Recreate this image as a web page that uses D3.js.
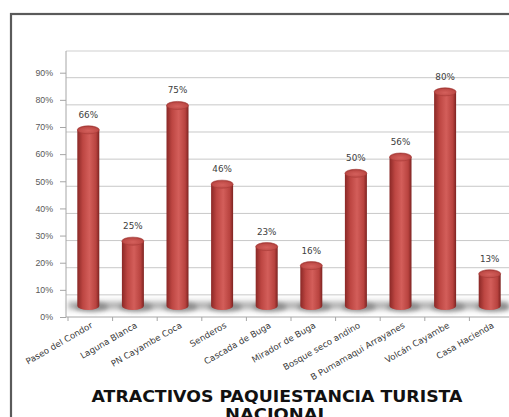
<!DOCTYPE html>
<html lang="es">
<head>
<meta charset="UTF-8">
<title>Atractivos Paquiestancia</title>
<script src="https://d3js.org/d3.v7.min.js"></script>
<style>
    body { margin: 0; background: #ffffff; }
    svg { display: block; font-family: 'DejaVu Sans', sans-serif; }
    .tick-label { font-size: 8.8px; fill: #595959; }
    .cat-label { font-size: 8.7px; fill: #3a3a3a; }
    .val-label { font-size: 8.8px; fill: #404040; }
    .title { font-family: 'DejaVu Sans', sans-serif; font-weight: 700; font-size: 16px; fill: #111; }
</style>
</head>
<body>
<script>
    // data
    const categories = ["Paseo del Condor", "Laguna Blanca", "PN Cayambe Coca", "Senderos",
        "Cascada de Buga", "Mirador de Buga", "Bosque seco andino", "B Pumamaqui Arrayanes",
        "Volcán Cayambe", "Casa Hacienda"];
    const values = [0.66, 0.25, 0.75, 0.46, 0.23, 0.16, 0.50, 0.56, 0.80, 0.13];
    const yTicks = [0, 0.1, 0.2, 0.3, 0.4, 0.5, 0.6, 0.7, 0.8, 0.9];
    const titleLines = ["ATRACTIVOS PAQUIESTANCIA TURISTA", "NACIONAL"];

    const width = 509, height = 417;
    const depth = 8;          // 3d offset of the bars
    const wallShift = 5;      // back wall gridlines sit a bit lower than the ticks

    const svg = d3.select("body").append("svg")
        .attr("width", width)
        .attr("height", height);

    const defs = svg.append("defs");

    const body = defs.append("linearGradient").attr("id", "barBody")
        .attr("x1", "0%").attr("x2", "100%").attr("y1", "0%").attr("y2", "0%");
    body.append("stop").attr("offset", "0%").attr("stop-color", "#8a2826");
    body.append("stop").attr("offset", "25%").attr("stop-color", "#bd4642");
    body.append("stop").attr("offset", "55%").attr("stop-color", "#d35e5a");
    body.append("stop").attr("offset", "85%").attr("stop-color", "#b8433f");
    body.append("stop").attr("offset", "100%").attr("stop-color", "#7d2321");

    const cap = defs.append("radialGradient").attr("id", "barCap")
        .attr("cx", "50%").attr("cy", "60%").attr("r", "60%");
    cap.append("stop").attr("offset", "0%").attr("stop-color", "#d4605c");
    cap.append("stop").attr("offset", "70%").attr("stop-color", "#c04c48");
    cap.append("stop").attr("offset", "100%").attr("stop-color", "#9c3330");

    const floorGrad = defs.append("linearGradient").attr("id", "floorGrad")
        .attr("x1", "0%").attr("x2", "0%").attr("y1", "0%").attr("y2", "100%");
    floorGrad.append("stop").attr("offset", "0%").attr("stop-color", "#d0d0d0").attr("stop-opacity", 0.3);
    floorGrad.append("stop").attr("offset", "50%").attr("stop-color", "#a0a0a0").attr("stop-opacity", 0.95);
    floorGrad.append("stop").attr("offset", "100%").attr("stop-color", "#cfcfcf").attr("stop-opacity", 0.3);

    defs.append("filter").attr("id", "blur")
        .attr("x", "-20%").attr("y", "-50%").attr("width", "140%").attr("height", "200%")
        .append("feGaussianBlur").attr("stdDeviation", 2.2);

    // outer frame (runs off the bottom and right of the picture)
    svg.append("rect")
        .attr("x", 11).attr("y", 14)
        .attr("width", 520).attr("height", 430)
        .attr("fill", "#ffffff")
        .attr("stroke", "#5a5a5a")
        .attr("stroke-width", 2.2);

    const y = d3.scaleLinear().domain([0, 0.9]).range([317, 72.7]);
    const x = d3.scaleBand().domain(categories).range([68, 514]);

    // back wall
    svg.append("line")
        .attr("x1", 66).attr("x2", width)
        .attr("y1", 51).attr("y2", 51)
        .attr("stroke", "#cfcfcf").attr("stroke-width", 1);

    svg.append("g")
        .selectAll("line")
        .data(yTicks.slice(1))
        .join("line")
        .attr("x1", 66).attr("x2", width)
        .attr("y1", d => y(d) + wallShift)
        .attr("y2", d => y(d) + wallShift)
        .attr("stroke", "#c8c8c8")
        .attr("stroke-width", 1);

    // floor shadow band
    svg.append("rect")
        .attr("x", 68).attr("y", y(0) - 18)
        .attr("width", width - 68).attr("height", 13)
        .attr("fill", "url(#floorGrad)")
        .attr("filter", "url(#blur)");

    // y axis
    const yAxis = d3.axisLeft(y)
        .tickValues(yTicks)
        .tickFormat(d3.format(".0%"))
        .tickSize(6)
        .tickPadding(7);

    const gy = svg.append("g")
        .attr("transform", "translate(66,0)")
        .call(yAxis);
    gy.select(".domain").attr("stroke", "#a6a6a6").attr("d", `M0,51V${y(0)}`);
    gy.selectAll(".tick line").attr("stroke", "#a6a6a6");
    gy.selectAll(".tick text").attr("class", "tick-label").attr("fill", null);

    // x axis
    const xAxis = d3.axisBottom(x).tickSize(4).tickFormat("");
    const gx = svg.append("g")
        .attr("transform", `translate(0,${y(0)})`)
        .call(xAxis);
    gx.select(".domain").attr("stroke", "#a6a6a6").attr("d", `M66,0H${width}`);
    gx.selectAll(".tick line")
        .attr("stroke", "#a6a6a6")
        .attr("transform", `translate(${-x.bandwidth() / 2},0)`);

    svg.append("g")
        .selectAll("text")
        .data(categories)
        .join("text")
        .attr("class", "cat-label")
        .attr("text-anchor", "end")
        .attr("transform", d => `translate(${x(d) + x.bandwidth() / 2 + 3},${y(0) + 10}) rotate(-30)`)
        .text(d => d);

    // cylinders
    const barW = 22, ry = 4;
    const bottomY = y(0) - 11;
    const rows = categories.map((c, i) => ({ cat: c, v: values[i] }));

    const bars = svg.append("g")
        .selectAll("g")
        .data(rows)
        .join("g")
        .attr("transform", d => `translate(${x(d.cat) + x.bandwidth() / 2 - 2},0)`);

    // small dark shadow on the floor behind each bar
    bars.append("ellipse")
        .attr("cx", 3).attr("cy", bottomY + 1)
        .attr("rx", barW / 2 + 6).attr("ry", 5)
        .attr("fill", "#6e6e6e")
        .attr("opacity", 0.6)
        .attr("filter", "url(#blur)");

    bars.append("path")
        .attr("d", d => {
            const top = y(d.v) - depth;
            return `M${-barW / 2},${top}V${bottomY}` +
                `A${barW / 2},${ry} 0 0 0 ${barW / 2},${bottomY}` +
                `V${top}Z`;
        })
        .attr("fill", "url(#barBody)");

    bars.append("ellipse")
        .attr("cx", 0)
        .attr("cy", d => y(d.v) - depth)
        .attr("rx", barW / 2)
        .attr("ry", ry)
        .attr("fill", "url(#barCap)")
        .attr("stroke", "#a83a37")
        .attr("stroke-width", 0.6);

    // value labels
    svg.append("g")
        .selectAll("text")
        .data(rows)
        .join("text")
        .attr("class", "val-label")
        .attr("text-anchor", "middle")
        .attr("x", d => x(d.cat) + x.bandwidth() / 2 - 2)
        .attr("y", d => y(d.v) - depth - 12)
        .text(d => d3.format(".0%")(d.v));

    // title
    svg.append("text")
        .attr("class", "title")
        .attr("text-anchor", "middle")
        .attr("x", 277)
        .attr("y", 402)
        .selectAll("tspan")
        .data(titleLines)
        .join("tspan")
        .attr("x", 277)
        .attr("dy", (d, i) => i === 0 ? 0 : 18)
        .attr("textLength", (d, i) => i === 0 ? 371 : 104)
        .attr("lengthAdjust", "spacingAndGlyphs")
        .text(d => d);
</script>
</body>
</html>
